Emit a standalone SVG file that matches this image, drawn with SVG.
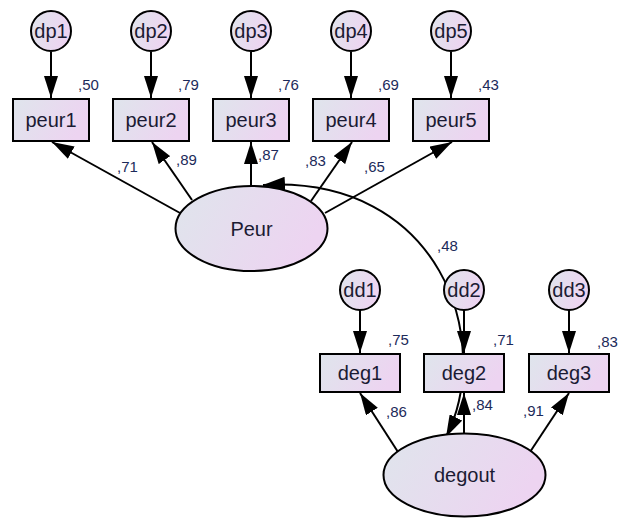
<svg xmlns="http://www.w3.org/2000/svg" width="618" height="518" viewBox="0 0 618 518">
<defs>
<linearGradient id="fill" x1="0" y1="0" x2="1" y2="0.3">
<stop offset="0" stop-color="#dfe5ec"/>
<stop offset="1" stop-color="#edd4f1"/>
</linearGradient>
<marker id="ah" markerUnits="userSpaceOnUse" markerWidth="22" markerHeight="14" refX="22" refY="7" orient="auto-start-reverse" viewBox="0 0 22 14">
<path d="M0,0 L22,7 L0,14 z" fill="#000"/>
</marker>
<style>
.n{fill:url(#fill);stroke:#000;stroke-width:2}
.t{font-family:"Liberation Sans",Arial,sans-serif;font-size:20px;fill:#1b1b33;text-anchor:middle}
.v{font-family:"Liberation Sans",Arial,sans-serif;font-size:15px;fill:#1c2a5a}
.c line,.c path{stroke:#000;stroke-width:2;fill:none}
.a{marker-end:url(#ah)}
</style>
</defs>
<g class="c" id="connectors">
<line class="a" x1="51" y1="52" x2="51" y2="98"/>
<line class="a" x1="151" y1="52" x2="151" y2="98"/>
<line class="a" x1="251" y1="52" x2="251" y2="98"/>
<line class="a" x1="351" y1="52" x2="351" y2="98"/>
<line class="a" x1="451" y1="52" x2="451" y2="98"/>
<line class="a" x1="180" y1="213" x2="52" y2="142"/>
<line class="a" x1="192" y1="200" x2="152" y2="142"/>
<line class="a" x1="251" y1="186" x2="251" y2="142"/>
<line class="a" x1="311" y1="201" x2="352" y2="142"/>
<line class="a" x1="325" y1="213" x2="452" y2="142"/>
<line class="a" x1="360" y1="310" x2="360" y2="353"/>
<line class="a" x1="464" y1="310" x2="464" y2="353"/>
<line class="a" x1="569" y1="310" x2="569" y2="353"/>
<line class="a" x1="398" y1="452" x2="360" y2="393"/>
<line class="a" x1="464" y1="434" x2="464" y2="393"/>
<line class="a" x1="530" y1="452" x2="569" y2="393"/>
<path d="M263,185 C440,175 495,340 446,437" marker-start="url(#ah)" marker-end="url(#ah)"/>
</g>
<g id="dp1"><circle class="n" cx="51" cy="31" r="20"/><text class="t" x="51" y="38">dp1</text></g>
<g id="dp2"><circle class="n" cx="151" cy="31" r="20"/><text class="t" x="151" y="38">dp2</text></g>
<g id="dp3"><circle class="n" cx="251" cy="31" r="20"/><text class="t" x="251" y="38">dp3</text></g>
<g id="dp4"><circle class="n" cx="351" cy="31" r="20"/><text class="t" x="351" y="38">dp4</text></g>
<g id="dp5"><circle class="n" cx="451" cy="31" r="20"/><text class="t" x="451" y="38">dp5</text></g>
<g id="peur1"><rect class="n" x="13" y="99" width="76" height="42"/><text class="t" x="51" y="127">peur1</text><text class="v" x="78" y="90">,50</text></g>
<g id="peur2"><rect class="n" x="113" y="99" width="76" height="42"/><text class="t" x="151" y="127">peur2</text><text class="v" x="178" y="90">,79</text></g>
<g id="peur3"><rect class="n" x="213" y="99" width="76" height="42"/><text class="t" x="251" y="127">peur3</text><text class="v" x="278" y="90">,76</text></g>
<g id="peur4"><rect class="n" x="313" y="99" width="76" height="42"/><text class="t" x="351" y="127">peur4</text><text class="v" x="378" y="90">,69</text></g>
<g id="peur5"><rect class="n" x="413" y="99" width="76" height="42"/><text class="t" x="451" y="127">peur5</text><text class="v" x="478" y="90">,43</text></g>
<g id="Peur"><ellipse class="n" cx="251.5" cy="228.5" rx="76" ry="42.5"/><text class="t" x="251.5" y="236">Peur</text></g>
<g id="dd1"><circle class="n" cx="360" cy="290" r="20"/><text class="t" x="360" y="297">dd1</text></g>
<g id="dd2"><circle class="n" cx="464" cy="290" r="20"/><text class="t" x="464" y="297">dd2</text></g>
<g id="dd3"><circle class="n" cx="569" cy="290" r="20"/><text class="t" x="569" y="297">dd3</text></g>
<g id="deg1"><rect class="n" x="320" y="354" width="80" height="38"/><text class="t" x="360" y="380">deg1</text><text class="v" x="388" y="345">,75</text></g>
<g id="deg2"><rect class="n" x="424" y="354" width="80" height="38"/><text class="t" x="464" y="380">deg2</text><text class="v" x="493" y="345">,71</text></g>
<g id="deg3"><rect class="n" x="529" y="354" width="80" height="38"/><text class="t" x="569" y="380">deg3</text><text class="v" x="597" y="347">,83</text></g>
<g id="degout"><ellipse class="n" cx="464.5" cy="475" rx="81" ry="41.5"/><text class="t" x="464.5" y="482">degout</text></g>
<g id="labels">
<text class="v" x="117" y="172">,71</text>
<text class="v" x="176" y="165">,89</text>
<text class="v" x="258" y="160">,87</text>
<text class="v" x="305" y="166">,83</text>
<text class="v" x="364" y="172">,65</text>
<text class="v" x="437" y="251">,48</text>
<text class="v" x="386" y="417">,86</text>
<text class="v" x="472" y="410">,84</text>
<text class="v" x="523" y="416">,91</text>
</g>
</svg>
